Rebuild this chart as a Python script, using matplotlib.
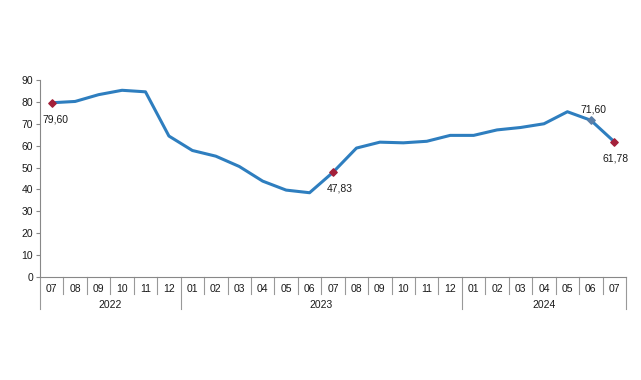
import matplotlib
matplotlib.use("Agg")
import matplotlib.pyplot as plt
from matplotlib.transforms import blended_transform_factory

plt.rcParams['font.family'] = ['Liberation Sans', 'DejaVu Sans']

months = ["07", "08", "09", "10", "11", "12",
          "01", "02", "03", "04", "05", "06", "07", "08", "09", "10", "11", "12",
          "01", "02", "03", "04", "05", "06", "07"]
years = ["2022", "2023", "2024"]
year_counts = [6, 12, 7]
values = [79.60, 80.2, 83.3, 85.3, 84.6, 64.4,
          57.8, 55.2, 50.5, 43.8, 39.7, 38.5, 47.83, 58.9, 61.6, 61.3, 62.0, 64.7,
          64.7, 67.2, 68.3, 70.0, 75.5, 71.60, 61.78]
labels = {0: "79,60", 12: "47,83", 23: "71,60", 24: "61,78"}
label_offsets = {0: (3, -12), 12: (5, -12), 23: (2, 8), 24: (1, -12)}
red_points = [0, 12, 24]
grey_points = [23]

fig = plt.figure(figsize=(6.41, 3.80), dpi=100)
ax = fig.add_axes([40/641, 103/380, (626-40)/641, (277-80)/380])

n = len(values)
x = list(range(n))
ax.plot(x, values, color="#2E7EBF", lw=2.2, zorder=2, solid_joinstyle="round")
ax.scatter([x[i] for i in red_points], [values[i] for i in red_points],
           color="#A3203A", marker="D", s=14, zorder=3)
ax.scatter([x[i] for i in grey_points], [values[i] for i in grey_points],
           color="#5A7FA8", marker="D", s=14, zorder=3)
for i, t in labels.items():
    dx, dy = label_offsets[i]
    ax.annotate(t, (x[i], values[i]), xytext=(dx, dy), textcoords="offset points",
                ha="center", va="center", fontsize=7.5, color="#1a1a1a")

ax.set_xlim(-0.5, n - 0.5)
ax.set_ylim(0, 90)
ax.set_yticks(range(0, 91, 10))
ax.tick_params(axis="y", labelsize=7.5, length=3, color="#888888", labelcolor="#1a1a1a", pad=2)
ax.set_xticks([])
for s in ["top", "right"]:
    ax.spines[s].set_visible(False)
ax.spines["left"].set_color("#888888")
ax.spines["bottom"].set_color("#888888")
ax.spines["left"].set_linewidth(0.8)
ax.spines["bottom"].set_linewidth(0.8)

trans = blended_transform_factory(ax.transData, ax.transAxes)
px = 1 / 197.0  # axes fraction per pixel
for i, m in enumerate(months):
    ax.text(i, -12 * px, m, transform=trans, ha="center", va="center", fontsize=7.5, color="#1a1a1a")
boundaries = [0]
for c in year_counts:
    boundaries.append(boundaries[-1] + c)
for b in range(n + 1):
    bottom = -32 * px if b in boundaries else -17 * px
    ax.plot([b - 0.5, b - 0.5], [0, bottom], transform=trans, color="#999999", lw=0.8, clip_on=False)
for k, yv in enumerate(years):
    center = (boundaries[k] + boundaries[k + 1]) / 2 - 0.5
    ax.text(center, -28 * px, yv, transform=trans, ha="center", va="center", fontsize=7.5, color="#1a1a1a")

fig.savefig("out.png", dpi=100)
